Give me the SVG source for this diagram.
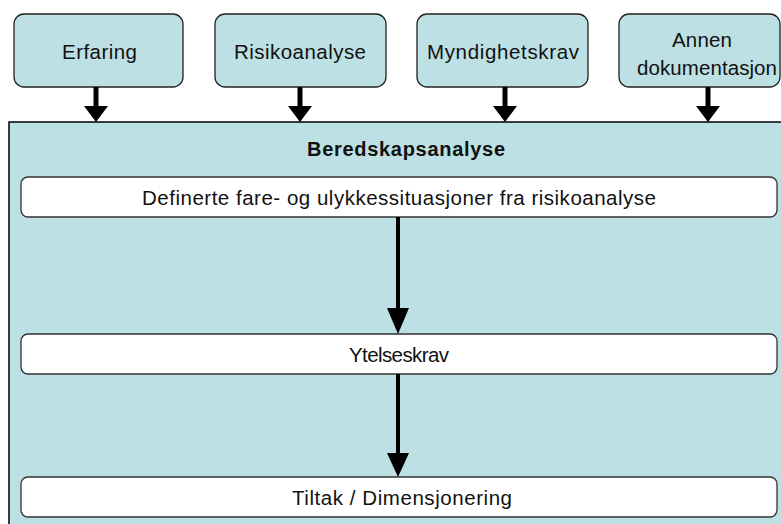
<svg xmlns="http://www.w3.org/2000/svg" width="781" height="524" viewBox="0 0 781 524">
<style>
.src{fill:#BCE0E3;stroke:#222;stroke-width:1.3}
.inner{fill:#FFFFFF;stroke:#333;stroke-width:1.3}
.lbl{font-family:"Liberation Sans",Arial,sans-serif;font-size:20.5px;fill:#111;text-anchor:middle}
.ttl{font-family:"Liberation Sans",Arial,sans-serif;font-size:20px;font-weight:bold;fill:#111;text-anchor:middle}
.conn{stroke:#000;fill:none}
.head{fill:#000}
</style>
<rect width="781" height="524" fill="#FFFFFF"/>
<g id="beredskapsanalyse">
<rect x="9" y="122" width="790" height="420" fill="#BCE0E3" stroke="#000" stroke-width="1.5"/>
<text class="ttl" x="406" y="156" textLength="198" lengthAdjust="spacing">Beredskapsanalyse</text>
</g>
<g id="erfaring">
<rect class="src" x="14" y="14" width="169" height="73" rx="10"/>
<text class="lbl" x="99.5" y="59" textLength="75">Erfaring</text>
</g>
<g id="risikoanalyse">
<rect class="src" x="215" y="14" width="171" height="73" rx="10"/>
<text class="lbl" x="300" y="59" textLength="132">Risikoanalyse</text>
</g>
<g id="myndighetskrav">
<rect class="src" x="417" y="14" width="171" height="73" rx="10"/>
<text class="lbl" x="503" y="59" textLength="152">Myndighetskrav</text>
</g>
<g id="annen">
<rect class="src" x="619" y="14" width="161" height="73" rx="10"/>
<text class="lbl" x="702" y="47" textLength="60">Annen</text>
<text class="lbl" x="707" y="75" textLength="140">dokumentasjon</text>
</g>
<g id="definerte">
<rect class="inner" x="21" y="177" width="756" height="40" rx="7"/>
<text class="lbl" x="399" y="205" textLength="514">Definerte fare- og ulykkessituasjoner fra risikoanalyse</text>
</g>
<g id="ytelseskrav">
<rect class="inner" x="21" y="334" width="756" height="40" rx="7"/>
<text class="lbl" x="399" y="362" textLength="100">Ytelseskrav</text>
</g>
<g id="tiltak">
<rect class="inner" x="21" y="477" width="756" height="40" rx="7"/>
<text class="lbl" x="402" y="505" textLength="220">Tiltak / Dimensjonering</text>
</g>
<g id="connectors">
<line class="conn" x1="96" y1="87" x2="96" y2="107" stroke-width="5"/>
<polygon class="head" points="84,106 108,106 96,122"/>
<line class="conn" x1="300" y1="87" x2="300" y2="107" stroke-width="5"/>
<polygon class="head" points="288,106 312,106 300,122"/>
<line class="conn" x1="505" y1="87" x2="505" y2="107" stroke-width="5"/>
<polygon class="head" points="493,106 517,106 505,122"/>
<line class="conn" x1="708" y1="87" x2="708" y2="107" stroke-width="5"/>
<polygon class="head" points="696,106 720,106 708,122"/>
<line class="conn" x1="398" y1="217" x2="398" y2="310" stroke-width="4"/>
<polygon class="head" points="387,308 409,308 398,334"/>
<line class="conn" x1="398" y1="374" x2="398" y2="455" stroke-width="4"/>
<polygon class="head" points="387,453 409,453 398,477"/>
</g>
</svg>
